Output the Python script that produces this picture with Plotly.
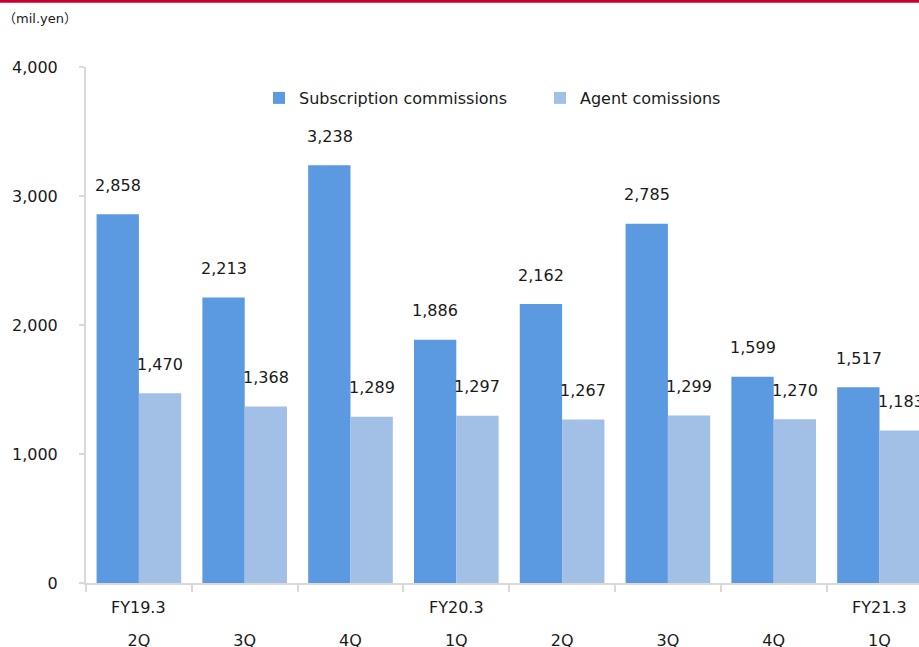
import plotly.graph_objects as go

categories = ["FY19.3 2Q", "FY19.3 3Q", "FY19.3 4Q", "FY20.3 1Q",
              "FY20.3 2Q", "FY20.3 3Q", "FY20.3 4Q", "FY21.3 1Q"]
quarter_labels = ["2Q", "3Q", "4Q", "1Q", "2Q", "3Q", "4Q", "1Q"]
fy_labels = ["FY19.3", "", "", "FY20.3", "", "", "", "FY21.3"]
subscription = [2858, 2213, 3238, 1886, 2162, 2785, 1599, 1517]
agent = [1470, 1368, 1289, 1297, 1267, 1299, 1270, 1183]

BLUE = "#5B99E0"
LIGHT = "#A2C0E6"
FONT = "DejaVu Sans, Noto Sans CJK JP, sans-serif"
TXT = "#1a1a1a"

W, H = 919, 647
L, R, T, B = 86, 0, 67, 64
plot_w = W - L - R
cat_px = 105.8
span = plot_w / cat_px

fig = go.Figure()
fig.add_trace(go.Bar(x=categories, y=subscription, name="Subscription commissions",
                     marker=dict(color=BLUE, line=dict(width=0))))
fig.add_trace(go.Bar(x=categories, y=agent, name="Agent comissions",
                     marker=dict(color=LIGHT, line=dict(width=0))))

annotations = []
for i, c in enumerate(categories):
    annotations.append(dict(x=c, y=subscription[i], xref="x", yref="y",
                            text=f"{subscription[i]:,}", showarrow=False,
                            xshift=-21, yshift=29, yanchor="middle",
                            font=dict(family=FONT, size=16, color=TXT)))
    annotations.append(dict(x=c, y=agent[i], xref="x", yref="y",
                            text=f"{agent[i]:,}", showarrow=False,
                            xshift=21, yshift=29, yanchor="middle",
                            font=dict(family=FONT, size=16, color=TXT)))
    if fy_labels[i]:
        annotations.append(dict(x=c, y=0, xref="x", yref="paper",
                                text=fy_labels[i], showarrow=False,
                                yshift=-24, yanchor="middle",
                                font=dict(family=FONT, size=16, color=TXT)))

annotations.append(dict(x=0, y=1, xref="paper", yref="paper", xanchor="left",
                        yanchor="middle", text="（mil.yen）", showarrow=False,
                        xshift=-L + 1, yshift=T - 18,
                        font=dict(family=FONT, size=13, color=TXT)))

fig.update_layout(
    width=W, height=H,
    margin=dict(l=L, r=R, t=T, b=B, pad=0, autoexpand=False),
    paper_bgcolor="white", plot_bgcolor="white",
    barmode="group", bargap=0.2, bargroupgap=0,
    font=dict(family=FONT, size=16, color=TXT),
    showlegend=True,
    legend=dict(orientation="h", x=(259 - L) / plot_w, xanchor="left",
                y=(583 - 98) / 516, yanchor="middle",
                bgcolor="rgba(0,0,0,0)", entrywidth=236,
                font=dict(family=FONT, size=16, color=TXT)),
    annotations=annotations,
    shapes=[dict(type="line", xref="paper", yref="paper",
                 x0=-L / plot_w, x1=1, y0=(583 - 1.3) / 516, y1=(583 - 1.3) / 516,
                 line=dict(color="#C8002D", width=3))],
)
fig.update_xaxes(
    type="category", range=[-0.5, -0.5 + span], automargin=False,
    tickvals=categories, ticktext=quarter_labels,
    showline=True, linecolor="#D9D9D9", linewidth=2,
    ticks="outside", tickson="boundaries", ticklen=7, tickcolor="#D9D9D9", tickwidth=2,
    ticklabelstandoff=42, showgrid=False, zeroline=False,
    tickfont=dict(family=FONT, size=16, color=TXT),
)
fig.update_yaxes(
    range=[0, 4000], tickvals=[0, 1000, 2000, 3000, 4000], tickformat=",",
    automargin=False,
    showline=True, linecolor="#D9D9D9", linewidth=2,
    ticks="outside", ticklen=5, tickcolor="#D9D9D9", tickwidth=2,
    ticklabelstandoff=18, showgrid=False, zeroline=False,
    tickfont=dict(family=FONT, size=16, color=TXT),
)

fig.write_html("out.html")
